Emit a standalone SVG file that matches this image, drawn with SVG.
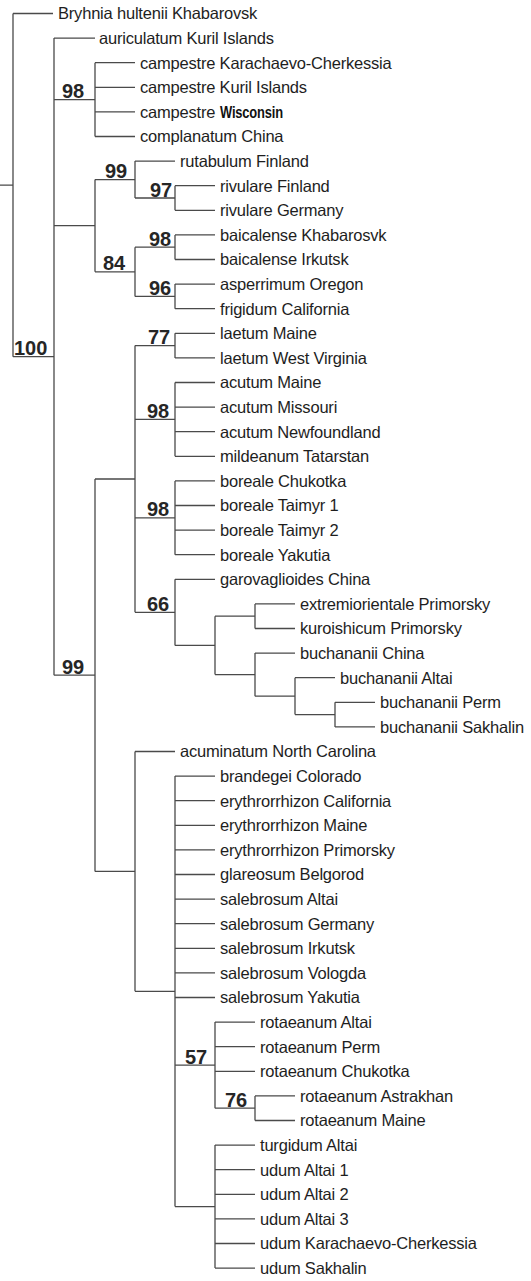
<svg xmlns="http://www.w3.org/2000/svg" width="531" height="1281" viewBox="0 0 531 1281">
<style>
.br{fill:none;stroke:#4a4a4a;stroke-width:1.3}
.lf{font-family:"Liberation Sans",Arial,sans-serif;font-size:16.5px;fill:#1e1e1e;letter-spacing:-0.2px}
.bs{font-family:"Liberation Sans",Arial,sans-serif;font-size:20px;font-weight:bold;fill:#262626}
</style>
<rect width="531" height="1281" fill="#fff"/>
<g id="connectors">
<path class="br" d="M0,185.1H13M13,13.5V356.65M13,13.5H53M13,356.65H54"/>
<path class="br" d="M54,38.1V675.2M54,38.1H95M54,99.6H95M54,225.7H95M54,675.2H95"/>
<path class="br" d="M95,62.7V136.5M95,62.7H135M95,87.3H135M95,111.9H135M95,136.5H135"/>
<path class="br" d="M95,179.55V271.8M95,179.55H135M95,271.8H135"/>
<path class="br" d="M135,161.1V198M135,161.1H175M135,198H175"/>
<path class="br" d="M175,185.7V210.3M175,185.7H215M175,210.3H215"/>
<path class="br" d="M135,247.2V296.4M135,247.2H175M135,296.4H175"/>
<path class="br" d="M175,234.9V259.5M175,234.9H215M175,259.5H215"/>
<path class="br" d="M175,284.1V308.7M175,284.1H215M175,308.7H215"/>
<path class="br" d="M95,479V871.4M95,479H135M95,871.4H135"/>
<path class="br" d="M135,345.6V612.35M135,345.6H175M135,419.4H175M135,517.8H175M135,612.35H175"/>
<path class="br" d="M175,333.3V357.9M175,333.3H215M175,357.9H215"/>
<path class="br" d="M175,382.5V456.3M175,382.5H215M175,407.1H215M175,431.7H215M175,456.3H215"/>
<path class="br" d="M175,480.9V554.7M175,480.9H215M175,505.5H215M175,530.1H215M175,554.7H215"/>
<path class="br" d="M175,579.3V645.4M175,579.3H215M175,645.4H215"/>
<path class="br" d="M215,616.2V674.6M215,616.2H255M215,674.6H255"/>
<path class="br" d="M255,603.9V628.5M255,603.9H295M255,628.5H295"/>
<path class="br" d="M255,653.1V696.15M255,653.1H295M255,696.15H295"/>
<path class="br" d="M295,677.7V714.6M295,677.7H335M295,714.6H335"/>
<path class="br" d="M335,702.3V726.9M335,702.3H375M335,726.9H375"/>
<path class="br" d="M135,751.5V991.35M135,751.5H175M135,991.35H175"/>
<path class="br" d="M175,776.1V1206.6M175,776.1H215M175,800.7H215M175,825.3H215M175,849.9H215M175,874.5H215M175,899.1H215M175,923.7H215M175,948.3H215M175,972.9H215M175,997.5H215M175,1065.15H215M175,1206.6H215"/>
<path class="br" d="M215,1022.1V1108.2M215,1022.1H255M215,1046.7H255M215,1071.3H255M215,1108.2H255"/>
<path class="br" d="M255,1095.9V1120.5M255,1095.9H295M255,1120.5H295"/>
<path class="br" d="M215,1145.1V1268.1M215,1145.1H255M215,1169.7H255M215,1194.3H255M215,1218.9H255M215,1243.5H255M215,1268.1H255"/>
</g>
<g id="support">
<text class="bs" x="14" y="355">100</text>
<text class="bs" x="62" y="98">98</text>
<text class="bs" x="105" y="178">99</text>
<text class="bs" x="150" y="196.5">97</text>
<text class="bs" x="149" y="245.7">98</text>
<text class="bs" x="103" y="270.3">84</text>
<text class="bs" x="149" y="295">96</text>
<text class="bs" x="148" y="344">77</text>
<text class="bs" x="147" y="418">98</text>
<text class="bs" x="147" y="516.3">98</text>
<text class="bs" x="147" y="611">66</text>
<text class="bs" x="62" y="674">99</text>
<text class="bs" x="185" y="1063.7">57</text>
<text class="bs" x="225" y="1106.7">76</text>
</g>
<g id="leaves">
<g id="n1"><text class="lf" x="58" y="19.3">Bryhnia hultenii Khabarovsk</text></g>
<g id="n2"><text class="lf" x="99" y="43.9">auriculatum Kuril Islands</text></g>
<g id="n3"><text class="lf" x="140" y="68.5">campestre Karachaevo-Cherkessia</text></g>
<g id="n4"><text class="lf" x="140" y="93.1">campestre Kuril Islands</text></g>
<g id="n5"><text class="lf" x="140" y="117.7">campestre</text><text class="lf" x="220" y="117.7" font-weight="bold" letter-spacing="0" textLength="63" lengthAdjust="spacingAndGlyphs" style="fill:#111">Wisconsin</text></g>
<g id="n6"><text class="lf" x="140" y="142.3">complanatum China</text></g>
<g id="n7"><text class="lf" x="180" y="166.9">rutabulum Finland</text></g>
<g id="n8"><text class="lf" x="220" y="191.5">rivulare Finland</text></g>
<g id="n9"><text class="lf" x="220" y="216.1">rivulare Germany</text></g>
<g id="n10"><text class="lf" x="220" y="240.7">baicalense Khabarosvk</text></g>
<g id="n11"><text class="lf" x="220" y="265.3">baicalense Irkutsk</text></g>
<g id="n12"><text class="lf" x="220" y="289.9">asperrimum Oregon</text></g>
<g id="n13"><text class="lf" x="220" y="314.5">frigidum California</text></g>
<g id="n14"><text class="lf" x="220" y="339.1">laetum Maine</text></g>
<g id="n15"><text class="lf" x="220" y="363.7">laetum West Virginia</text></g>
<g id="n16"><text class="lf" x="220" y="388.3">acutum Maine</text></g>
<g id="n17"><text class="lf" x="220" y="412.9">acutum Missouri</text></g>
<g id="n18"><text class="lf" x="220" y="437.5">acutum Newfoundland</text></g>
<g id="n19"><text class="lf" x="220" y="462.1">mildeanum Tatarstan</text></g>
<g id="n20"><text class="lf" x="220" y="486.7">boreale Chukotka</text></g>
<g id="n21"><text class="lf" x="220" y="511.3">boreale Taimyr 1</text></g>
<g id="n22"><text class="lf" x="220" y="535.9">boreale Taimyr 2</text></g>
<g id="n23"><text class="lf" x="220" y="560.5">boreale Yakutia</text></g>
<g id="n24"><text class="lf" x="220" y="585.1">garovaglioides China</text></g>
<g id="n25"><text class="lf" x="300" y="609.7">extremiorientale Primorsky</text></g>
<g id="n26"><text class="lf" x="300" y="634.3">kuroishicum Primorsky</text></g>
<g id="n27"><text class="lf" x="300" y="658.9">buchananii China</text></g>
<g id="n28"><text class="lf" x="340" y="683.5">buchananii Altai</text></g>
<g id="n29"><text class="lf" x="380" y="708.1">buchananii Perm</text></g>
<g id="n30"><text class="lf" x="380" y="732.7">buchananii Sakhalin</text></g>
<g id="n31"><text class="lf" x="180" y="757.3">acuminatum North Carolina</text></g>
<g id="n32"><text class="lf" x="220" y="781.9">brandegei Colorado</text></g>
<g id="n33"><text class="lf" x="220" y="806.5">erythrorrhizon California</text></g>
<g id="n34"><text class="lf" x="220" y="831.1">erythrorrhizon Maine</text></g>
<g id="n35"><text class="lf" x="220" y="855.7">erythrorrhizon Primorsky</text></g>
<g id="n36"><text class="lf" x="220" y="880.3">glareosum Belgorod</text></g>
<g id="n37"><text class="lf" x="220" y="904.9">salebrosum Altai</text></g>
<g id="n38"><text class="lf" x="220" y="929.5">salebrosum Germany</text></g>
<g id="n39"><text class="lf" x="220" y="954.1">salebrosum Irkutsk</text></g>
<g id="n40"><text class="lf" x="220" y="978.7">salebrosum Vologda</text></g>
<g id="n41"><text class="lf" x="220" y="1003.3">salebrosum Yakutia</text></g>
<g id="n42"><text class="lf" x="260" y="1027.9">rotaeanum Altai</text></g>
<g id="n43"><text class="lf" x="260" y="1052.5">rotaeanum Perm</text></g>
<g id="n44"><text class="lf" x="260" y="1077.1">rotaeanum Chukotka</text></g>
<g id="n45"><text class="lf" x="300" y="1101.7">rotaeanum Astrakhan</text></g>
<g id="n46"><text class="lf" x="300" y="1126.3">rotaeanum Maine</text></g>
<g id="n47"><text class="lf" x="260" y="1150.9">turgidum Altai</text></g>
<g id="n48"><text class="lf" x="260" y="1175.5">udum Altai 1</text></g>
<g id="n49"><text class="lf" x="260" y="1200.1">udum Altai 2</text></g>
<g id="n50"><text class="lf" x="260" y="1224.7">udum Altai 3</text></g>
<g id="n51"><text class="lf" x="260" y="1249.3">udum Karachaevo-Cherkessia</text></g>
<g id="n52"><text class="lf" x="260" y="1273.9">udum Sakhalin</text></g>
</g>
</svg>
